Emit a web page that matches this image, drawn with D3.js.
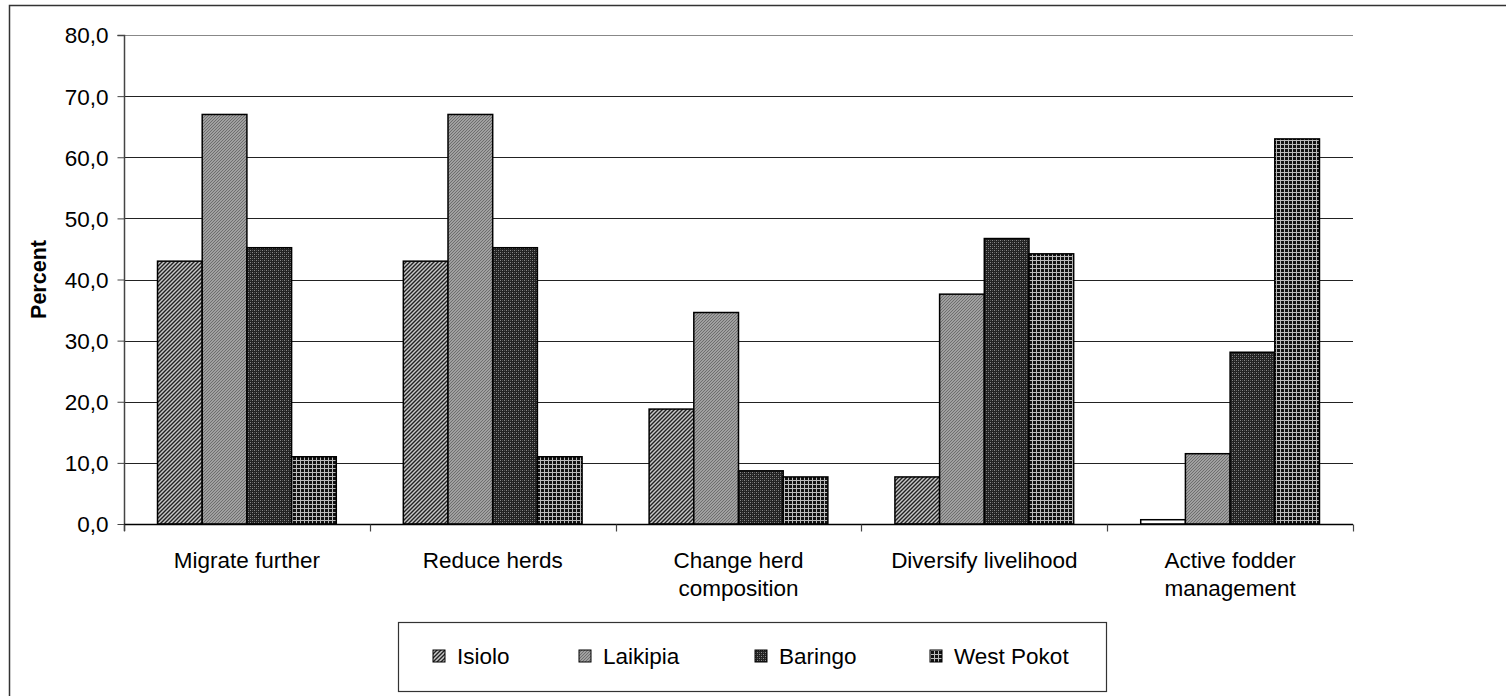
<!DOCTYPE html>
<html><head><meta charset="utf-8">
<script src="https://cdn.jsdelivr.net/npm/d3@7"></script>
<style>body{margin:0;background:#fff}svg{display:block}text{font-family:"Liberation Sans",Arial,sans-serif}</style>
</head><body>
<script>
const categories = [["Migrate further"],["Reduce herds"],["Change herd","composition"],["Diversify livelihood"],["Active fodder","management"]];
const seriesNames = ["Isiolo","Laikipia","Baringo","West Pokot"];
const isiolo   = [43.0, 43.0, 18.8, 7.7, 0.7];
const laikipia = [67.0, 67.0, 34.6, 37.6, 11.5];
const baringo  = [45.2, 45.2, 8.7, 46.7, 28.1];
const westPokot= [11.0, 11.0, 7.7, 44.2, 63.0];
const yTicks = [0,10,20,30,40,50,60,70,80];
const series = [isiolo, laikipia, baringo, westPokot];

const W=1506,H=696;
const FS=22.5;
const svg=d3.select("body").append("svg").attr("width",W).attr("height",H);
const defs=svg.append("defs");
const p1=defs.append("pattern").attr("id","p0").attr("patternUnits","userSpaceOnUse").attr("width",4).attr("height",4);
p1.append("rect").attr("width",4).attr("height",4).attr("fill","#c8c8c8");
p1.append("path").attr("d","M-1,1 L1,-1 M0,4 L4,0 M3,5 L5,3").attr("stroke","#222").attr("stroke-width",1.4);
const p2=defs.append("pattern").attr("id","p1").attr("patternUnits","userSpaceOnUse").attr("width",3).attr("height",3);
p2.append("rect").attr("width",3).attr("height",3).attr("fill","#a0a0a0");
p2.append("path").attr("d","M-1,1 L1,-1 M0,3 L3,0 M2,4 L4,2").attr("stroke","#6e6e6e").attr("stroke-width",1);
const p3=defs.append("pattern").attr("id","p2").attr("patternUnits","userSpaceOnUse").attr("width",4).attr("height",4);
p3.append("rect").attr("width",4).attr("height",4).attr("fill","#222");
p3.append("rect").attr("x",0).attr("y",0).attr("width",1).attr("height",1).attr("fill","#8a8a8a");
p3.append("rect").attr("x",2).attr("y",2).attr("width",1).attr("height",1).attr("fill","#8a8a8a");
p3.append("rect").attr("x",2).attr("y",0).attr("width",1).attr("height",1).attr("fill","#555");
p3.append("rect").attr("x",0).attr("y",2).attr("width",1).attr("height",1).attr("fill","#555");
const p4=defs.append("pattern").attr("id","p3").attr("patternUnits","userSpaceOnUse").attr("width",4).attr("height",4);
p4.append("rect").attr("width",4).attr("height",4).attr("fill","#111");
p4.append("rect").attr("x",0).attr("y",0).attr("width",4).attr("height",1).attr("fill","#bbb");
p4.append("rect").attr("x",0).attr("y",0).attr("width",1).attr("height",4).attr("fill","#bbb");

svg.append("rect").attr("x",9.5).attr("y",5.5).attr("width",W).attr("height",H).attr("fill","none").attr("stroke","#333").attr("stroke-width",1.5);

const L=124,R=1353,T=35,B=524;
const x0=d3.scaleBand().domain(d3.range(categories.length)).range([L,R]).paddingInner(0).paddingOuter(0);
const y=d3.scaleLinear().domain([0,80]).range([B,T]);

svg.append("g").selectAll("line").data(yTicks.filter(d=>d>0)).join("line")
 .attr("x1",L).attr("x2",R).attr("y1",d=>Math.round(y(d))+0.5).attr("y2",d=>Math.round(y(d))+0.5)
 .attr("stroke",d=>d===80?"#888":"#222").attr("stroke-width",1);

const bw=x0.bandwidth()/5.5;
const g=svg.append("g");
series.forEach((s,si)=>{
  g.selectAll(null).data(s).join("rect")
   .attr("x",(d,i)=>x0(i)+bw*0.75+si*bw)
   .attr("y",d=>y(d)).attr("width",bw).attr("height",d=>B-y(d))
   .attr("fill",(d,i)=> (si===0 && d<2)?"#fff":`url(#p${si})`)
   .attr("stroke","#000").attr("stroke-width",1.5);
});

const ya=d3.axisLeft(y).tickValues(yTicks).tickSize(7).tickFormat(d=>d3.format(".1f")(d).replace(".",","));
const yg=svg.append("g").attr("transform",`translate(${L+0.5},0)`).call(ya);
yg.select(".domain").attr("d",`M-7,${T+0.5}H0V${B+7}`).attr("stroke","#444").attr("stroke-width",1.5);
yg.selectAll(".tick line").attr("stroke","#444");
yg.selectAll(".tick text").attr("font-size",FS).attr("fill","#000").attr("x",-16).attr("dy","0.35em");

const xa=d3.axisBottom(x0).tickSize(0).tickFormat("");
const xg=svg.append("g").attr("transform",`translate(0,${B+0.5})`).call(xa);
xg.select(".domain").attr("d",`M${L},0H${R}`).attr("stroke","#000").attr("stroke-width",1.5);
xg.selectAll(".cattick").data(d3.range(categories.length+1)).join("line").attr("class","cattick")
 .attr("x1",i=>Math.round(L+i*x0.bandwidth())+0.5).attr("x2",i=>Math.round(L+i*x0.bandwidth())+0.5)
 .attr("y1",0).attr("y2",7).attr("stroke","#444").attr("stroke-width",1.2);
const lab=svg.append("g").selectAll("text").data(categories).join("text")
 .attr("x",(d,i)=>x0(i)+x0.bandwidth()/2).attr("y",568).attr("text-anchor","middle").attr("font-size",FS);
lab.selectAll("tspan").data(d=>d).join("tspan").attr("x",function(){return this.parentNode.getAttribute("x");})
 .attr("dy",(d,i)=>i===0?0:28).text(d=>d);

svg.append("text").attr("transform",`translate(46,${(T+B)/2}) rotate(-90)`).attr("text-anchor","middle")
 .attr("font-size",21.5).attr("font-weight","bold").text("Percent");

svg.append("rect").attr("x",398.5).attr("y",622.5).attr("width",708).attr("height",69).attr("fill","#fff").attr("stroke","#333").attr("stroke-width",1.2);
const legX=[433,579,755,930];
const lg=svg.append("g").selectAll("g").data(seriesNames).join("g").attr("transform",(d,i)=>`translate(${legX[i]},650)`);
lg.append("rect").attr("width",12).attr("height",12).attr("fill",(d,i)=>`url(#p${i})`).attr("stroke","#000").attr("stroke-width",1);
lg.append("text").attr("x",24).attr("y",6).attr("dy","0.36em").attr("font-size",FS).text(d=>d);
</script>
</body></html>
